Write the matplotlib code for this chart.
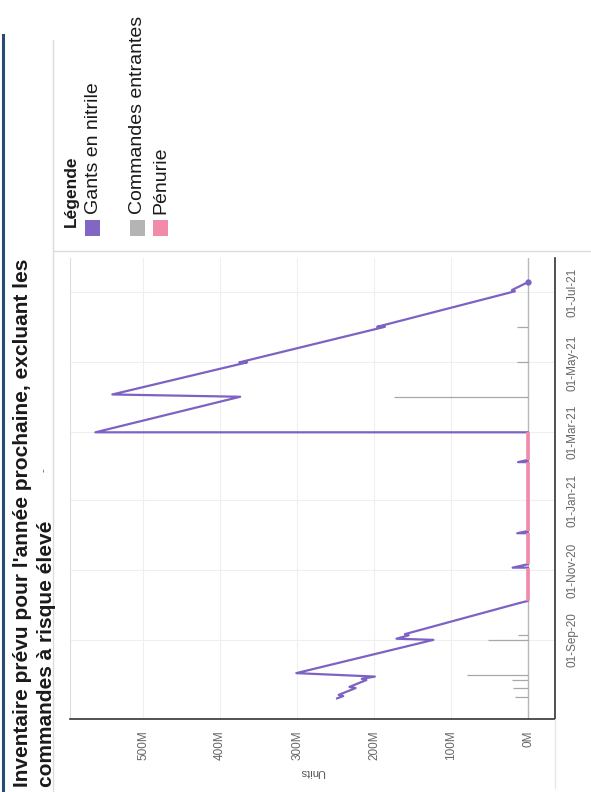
import matplotlib
matplotlib.use('Agg')
import numpy as np
import pandas as pd
import matplotlib.pyplot as plt
import matplotlib.dates as mdates
from matplotlib.patches import Rectangle
from matplotlib.lines import Line2D
from matplotlib.ticker import FixedLocator, FuncFormatter

plt.rcParams['font.family'] = ['Liberation Sans', 'DejaVu Sans']

# chart is shown turned a quarter turn: units run right->left, dates bottom->top
W, H = 591, 792

title_lines = ["Inventaire prévu pour l'année prochaine, excluant les",
               "commandes à risque élevé"]
legend_title = 'Légende'
legend_labels = ['Gants en nitrile', 'Commandes entrantes', 'Pénurie']
legend_colors = ['#8166c6', '#b4b4b4', '#f28ba8']

# projected stock (millions of units)
stock_dates = ['2020-07-12', '2020-07-14', '2020-07-15', '2020-07-21', '2020-07-22',
               '2020-07-28', '2020-07-29', '2020-07-31', '2020-08-03',
               '2020-09-01', '2020-09-02', '2020-09-05', '2020-09-06', '2020-10-03', '2020-10-05',
               '2020-11-03', '2020-11-03', '2020-11-06',
               '2020-12-03', '2020-12-03', '2020-12-05',
               '2021-02-03', '2021-02-03', '2021-02-05',
               '2021-03-01', '2021-03-01', '2021-04-01', '2021-04-03',
               '2021-05-01', '2021-05-01', '2021-06-01', '2021-06-01',
               '2021-07-02', '2021-07-03', '2021-07-10']
stock_values = [248, 240, 246, 224, 232,
                210, 216, 199, 301,
                123, 171, 155, 160, 12, 0,
                0, 20, 0,
                0, 14, 0,
                0, 13, 0,
                0, 562, 374, 540,
                365, 375, 186, 196,
                17, 21, 0]

# incoming orders (millions)
order_dates = ['2020-07-13', '2020-07-21', '2020-07-28', '2020-08-01', '2020-09-01',
               '2020-09-05', '2021-04-01', '2021-05-01', '2021-06-01']
order_values = [17, 20, 21, 79, 52, 13, 174, 14, 14]

# shortage periods
shortage_start = ['2020-10-05', '2020-11-06', '2020-12-05', '2021-02-05']
shortage_end = ['2020-11-03', '2020-12-03', '2021-02-03', '2021-03-01']

date_ticks = ['2020-09-01', '2020-11-01', '2021-01-01', '2021-03-01', '2021-05-01', '2021-07-01']
unit_ticks = [0, 100, 200, 300, 400, 500]


def fx(px):
    return px / W


def fy(py):
    return 1 - py / H


fig = plt.figure(figsize=(W / 100, H / 100), dpi=100)
fig.patch.set_facecolor('white')

# panel decoration
fig.add_artist(Line2D([fx(3), fx(3)], [fy(35), fy(792)], color='#2c4a70', lw=2.2))
fig.add_artist(Line2D([fx(53), fx(53)], [fy(40), fy(792)], color='#dcdcdc', lw=1))
fig.add_artist(Line2D([fx(53), fx(591)], [fy(251), fy(251)], color='#dcdcdc', lw=1))
fig.add_artist(Line2D([fx(555), fx(555)], [fy(719), fy(788)], color='#e6e6e6', lw=1))

# title (reads bottom to top)
fig.text(fx(23), fy(787), title_lines[0], rotation=90, rotation_mode='anchor',
         ha='left', va='center', fontsize=15, fontweight='bold', color='#1a1a1a')
fig.text(fx(47), fy(787), title_lines[1], rotation=90, rotation_mode='anchor',
         ha='left', va='center', fontsize=15, fontweight='bold', color='#1a1a1a')
fig.text(fx(44), fy(470), '-', rotation=90, rotation_mode='anchor',
         ha='center', va='center', fontsize=8, color='#555555')

# legend
fig.text(fx(71), fy(227), legend_title, rotation=90, rotation_mode='anchor',
         ha='left', va='center', fontsize=12.5, fontweight='bold', color='#1a1a1a')
leg_x = [93, 138, 161]
for lx, lab, col in zip(leg_x, legend_labels, legend_colors):
    fig.add_artist(Rectangle((fx(lx - 8), fy(236)), 15 / W, 16 / H,
                             transform=fig.transFigure, color=col, lw=0))
    fig.text(fx(lx), fy(214), lab, rotation=90, rotation_mode='anchor',
             ha='left', va='center', fontsize=14, color='#1a1a1a')

# chart
ax = fig.add_axes([fx(70), fy(719), (555 - 70) / W, (719 - 258) / H])

sd = pd.to_datetime(stock_dates)
od = pd.to_datetime(order_dates)
ss = pd.to_datetime(shortage_start)
se = pd.to_datetime(shortage_end)

ax.axvline(0, color='#b8b8b8', lw=1, zorder=1.5)
ax.hlines(od, [0] * len(od), order_values, color='#a8a8a8', lw=0.9, zorder=2)
ax.plot(stock_values, sd, color='#7d62c4', lw=1.6, zorder=3,
        marker='o', markevery=[len(stock_values) - 1], ms=3.5)
ax.vlines([0] * len(ss), ss, se, color='#f28ba8', lw=2.6, zorder=4)

ax.set_xlim(595, -35)
ax.set_ylim(pd.Timestamp('2020-06-24'), pd.Timestamp('2021-07-31'))

ax.xaxis.set_major_locator(FixedLocator(unit_ticks))
ax.xaxis.set_major_formatter(FuncFormatter(lambda v, p: '%dM' % v))
ax.yaxis.set_major_locator(FixedLocator(mdates.date2num(pd.to_datetime(date_ticks))))
ax.yaxis.set_major_formatter(mdates.DateFormatter('%d-%b-%y'))
ax.yaxis.tick_right()

ax.tick_params(axis='x', length=0, pad=8, labelsize=8.5, labelcolor='#666666', labelrotation=90)
ax.tick_params(axis='y', length=0, pad=8, labelsize=8.5, labelcolor='#666666', labelrotation=90)
plt.setp(ax.get_yticklabels(), va='center', ha='left')

ax.grid(True, color='#efefef', lw=0.8, zorder=0)
ax.set_axisbelow(True)

ax.set_xlabel('Units', rotation=180, fontsize=8, color='#555555', labelpad=5)

ax.spines['top'].set_visible(False)
ax.spines['left'].set_color('#dddddd')
ax.spines['bottom'].set_color('#333333')
ax.spines['bottom'].set_linewidth(1.2)
ax.spines['right'].set_color('#333333')
ax.spines['right'].set_linewidth(1.2)

fig.savefig('out.png', dpi=100)
